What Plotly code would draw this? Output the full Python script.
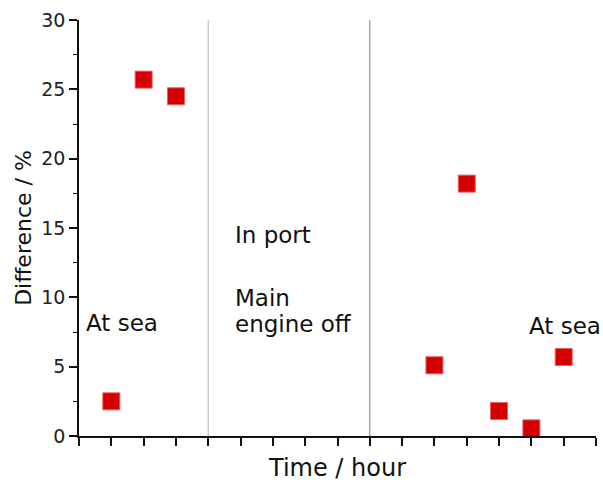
import plotly.graph_objects as go

# Data
time_idx = [1, 2, 3, 11, 12, 13, 14, 15]
difference = [2.5, 25.7, 24.5, 5.1, 18.2, 1.8, 0.55, 5.7]
y_ticks = [0, 5, 10, 15, 20, 25, 30]
separators = [4, 9]

FONT = "DejaVu Sans"

fig = go.Figure()
fig.add_trace(go.Scatter(
    x=time_idx, y=difference, mode="markers",
    marker=dict(symbol="square", size=17, color="#d40000",
                line=dict(color="#e86060", width=1)),
    showlegend=False, cliponaxis=False,
))

fig.add_shape(type="line", xref="x", yref="y", x0=separators[0], x1=separators[0],
              y0=0, y1=30, line=dict(color="#c0c0c0", width=1.2), layer="below")
fig.add_shape(type="line", xref="x", yref="y", x0=separators[1], x1=separators[1],
              y0=0, y1=30, line=dict(color="#808080", width=1), layer="below")

ann_font = dict(family=FONT, size=23, color="#111111")
for x, y, t in [(0.16, 8.12, "At sea"), (4.77, 14.46, "In port"),
                (4.77, 9.92, "Main"), (4.77, 8.05, "engine off"),
                (13.87, 7.9, "At sea")]:
    fig.add_annotation(x=x, y=y, xref="x", yref="y", text=t, showarrow=False,
                       xanchor="left", yanchor="middle", font=ann_font)

fig.update_layout(
    width=603, height=483,
    margin=dict(l=79, r=7, t=20, b=47),
    paper_bgcolor="white", plot_bgcolor="white",
    font=dict(family=FONT, color="#111111"),
    xaxis=dict(range=[0, 16], tickmode="linear", tick0=0, dtick=1,
               showticklabels=False, ticks="outside", ticklen=8, tickwidth=1.5,
               tickcolor="#111111", showline=True, linecolor="#111111", linewidth=1.5,
               showgrid=False, zeroline=False,
               title=dict(text="Time / hour", font=dict(family=FONT, size=24, color="#111111"),
                          standoff=14)),
    yaxis=dict(range=[0, 30], tickmode="array", tickvals=y_ticks,
               ticktext=[str(v) for v in y_ticks],
               ticks="outside", ticklen=8, tickwidth=1.5, tickcolor="#111111",
               tickfont=dict(family=FONT, size=19, color="#222222"),
               showline=True, linecolor="#111111", linewidth=1.5,
               showgrid=False, zeroline=False,
               minor=dict(dtick=2.5, ticks="outside", ticklen=4, tickwidth=1.2, tickcolor="#111111"),
               title=dict(text="Difference / %", font=dict(family=FONT, size=22, color="#111111"),
                          standoff=4)),
)

fig.write_html("out.html")
